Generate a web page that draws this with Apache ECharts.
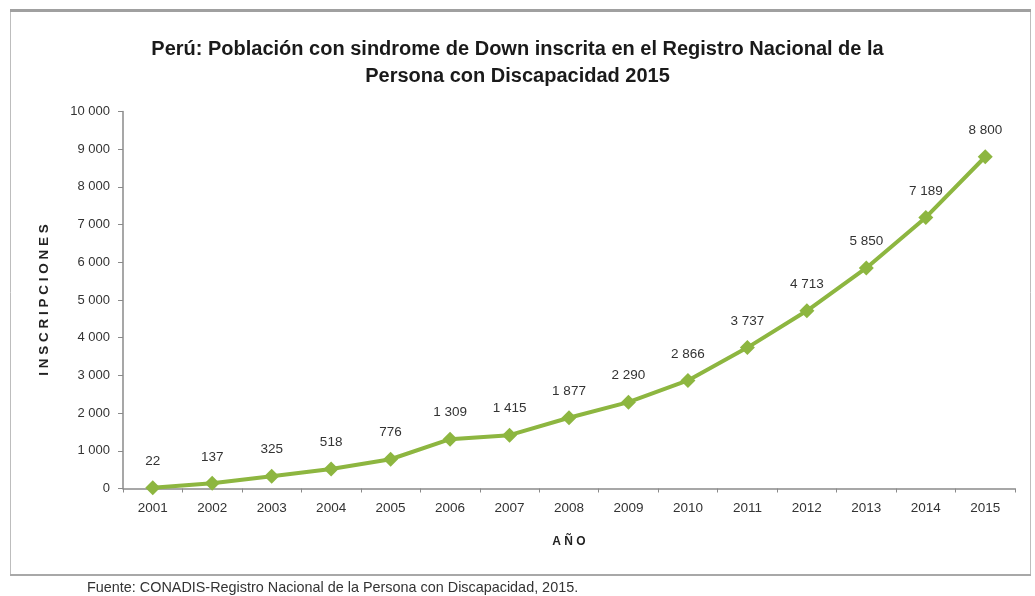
<!DOCTYPE html>
<html>
<head>
<meta charset="utf-8">
<script src="https://cdn.jsdelivr.net/npm/echarts@6/dist/echarts.min.js"></script>
<style>
  html, body { margin: 0; padding: 0; background: #fff; }
  #chart { width: 1035px; height: 596px; }
</style>
</head>
<body>
<div id="chart"></div>
<script>
// Registered persons with Down syndrome, by year
const years = ['2001', '2002', '2003', '2004', '2005', '2006', '2007', '2008',
               '2009', '2010', '2011', '2012', '2013', '2014', '2015'];
const inscripciones = [22, 137, 325, 518, 776, 1309, 1415, 1877,
                       2290, 2866, 3737, 4713, 5850, 7189, 8800];

const FONT = '"Liberation Sans", Arial, sans-serif';

// thousands separated by a space: 8800 -> "8 800"
function fmt(v) {
  return String(v).replace(/\B(?=(\d{3})+(?!\d))/g, ' ');
}

const chart = echarts.init(document.getElementById('chart'), null, { renderer: 'canvas' });

chart.setOption({
  backgroundColor: '#fff',
  animation: false,
  title: {
    text: 'Perú: Población con sindrome de Down inscrita en el Registro Nacional de la\nPersona con Discapacidad 2015',
    left: 'center',
    top: 31,
    textStyle: {
      fontFamily: FONT,
      fontSize: 20,
      fontWeight: 'bold',
      color: '#1a1a1a',
      lineHeight: 27,
      align: 'center'
    }
  },
  grid: {
    left: 123,
    right: 20,
    top: 111.5,
    bottom: 107.5,
    containLabel: false
  },
  xAxis: {
    type: 'category',
    data: years,
    boundaryGap: true,
    name: 'A Ñ O',
    nameLocation: 'middle',
    nameGap: 47,
    nameTextStyle: {
      fontFamily: FONT,
      fontSize: 12,
      fontWeight: 'bold',
      color: '#222'
    },
    axisLine: { show: true, lineStyle: { color: '#8a8a8a', width: 1.5 } },
    axisTick: { show: true, alignWithLabel: false, length: 4, lineStyle: { color: '#8a8a8a' } },
    axisLabel: {
      fontFamily: FONT,
      fontSize: 13.5,
      color: '#333',
      margin: 13
    },
    splitLine: { show: false }
  },
  yAxis: {
    type: 'value',
    min: 0,
    max: 10000,
    interval: 1000,
    name: 'I N S C R I P C I O N E S',
    nameLocation: 'middle',
    nameRotate: 90,
    nameGap: 72,
    nameTextStyle: {
      fontFamily: FONT,
      fontSize: 13.5,
      fontWeight: 'bold',
      color: '#222'
    },
    axisLine: { show: true, lineStyle: { color: '#8a8a8a', width: 1.5 } },
    axisTick: { show: true, length: 5, lineStyle: { color: '#8a8a8a' } },
    axisLabel: {
      fontFamily: FONT,
      fontSize: 13,
      color: '#333',
      margin: 13,
      formatter: fmt
    },
    splitLine: { show: false }
  },
  series: [{
    type: 'line',
    data: inscripciones,
    symbol: 'diamond',
    symbolSize: 15,
    lineStyle: { color: '#8db640', width: 4 },
    itemStyle: { color: '#8db640' },
    label: {
      show: true,
      position: 'top',
      distance: 12,
      fontFamily: FONT,
      fontSize: 13.5,
      color: '#333',
      formatter: p => fmt(p.value)
    }
  }],
  graphic: [
    {
      type: 'rect',
      shape: { x: 10.5, y: 10.5, width: 1020, height: 564 },
      style: { fill: 'none', stroke: '#bdbdbd', lineWidth: 1 },
      z: -1
    },
    {
      type: 'line',
      shape: { x1: 10, y1: 10.5, x2: 1031, y2: 10.5 },
      style: { stroke: '#a0a0a0', lineWidth: 3 },
      z: -1
    },
    {
      type: 'line',
      shape: { x1: 10, y1: 575, x2: 1031, y2: 575 },
      style: { stroke: '#a8a8a8', lineWidth: 2 },
      z: -1
    },
    {
      type: 'text',
      left: 87,
      top: 581,
      style: {
        text: 'Fuente: CONADIS-Registro Nacional de la Persona con Discapacidad, 2015.',
        font: '14.4px ' + FONT,
        fill: '#333'
      }
    }
  ]
});
</script>
</body>
</html>
